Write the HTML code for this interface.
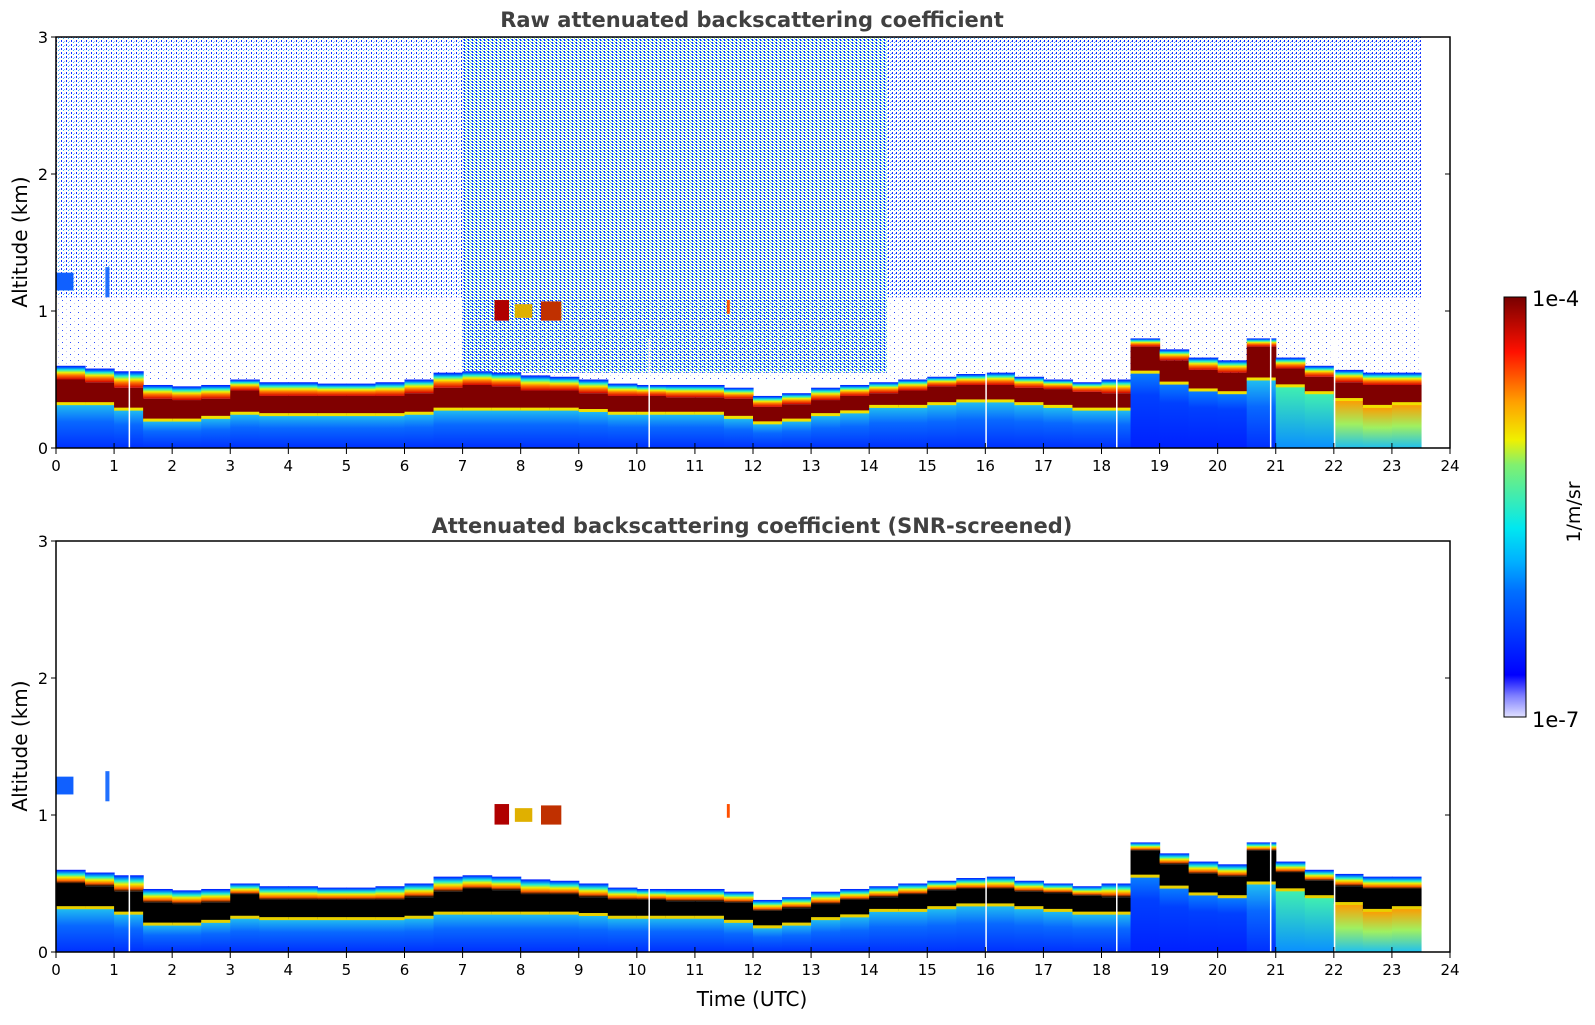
<!DOCTYPE html>
<html><head><meta charset="utf-8">
<style>
body{margin:0;background:#fff;}
svg text{font-family:"DejaVu Sans","Liberation Sans",sans-serif;}
</style></head>
<body>
<svg id="chart" width="1595" height="1020" viewBox="0 0 1595 1020" xmlns="http://www.w3.org/2000/svg">
<defs>
  <linearGradient id="gLowBlue" x1="0" y1="1" x2="0" y2="0"><stop offset="0" stop-color="#0020ff"/><stop offset="0.7" stop-color="#0040ff"/><stop offset="1" stop-color="#0880ff"/></linearGradient>
  <linearGradient id="gLowMid" x1="0" y1="1" x2="0" y2="0"><stop offset="0" stop-color="#0030ff"/><stop offset="0.6" stop-color="#0868ff"/><stop offset="1" stop-color="#20c0f0"/></linearGradient>
  <linearGradient id="gLowCyan" x1="0" y1="1" x2="0" y2="0"><stop offset="0" stop-color="#0a90ff"/><stop offset="1" stop-color="#40f0b0"/></linearGradient>
  <linearGradient id="gLowYel" x1="0" y1="1" x2="0" y2="0"><stop offset="0" stop-color="#20c0f0"/><stop offset="0.5" stop-color="#a0f060"/><stop offset="1" stop-color="#ff9a00"/></linearGradient>
  <linearGradient id="gUpper" x1="0" y1="1" x2="0" y2="0"><stop offset="0" stop-color="#d00000"/><stop offset="0.3" stop-color="#ff7000"/><stop offset="0.5" stop-color="#f0f000"/><stop offset="0.7" stop-color="#20f0d0"/><stop offset="0.85" stop-color="#0070ff"/><stop offset="1" stop-color="#0010ff"/></linearGradient>
  <linearGradient id="gUpperB" x1="0" y1="1" x2="0" y2="0"><stop offset="0" stop-color="#000"/><stop offset="0.2" stop-color="#ff6000"/><stop offset="0.45" stop-color="#f0f000"/><stop offset="0.65" stop-color="#20f0d0"/><stop offset="0.85" stop-color="#0070ff"/><stop offset="1" stop-color="#0010ff"/></linearGradient>
  <linearGradient id="gCbar" x1="0" y1="1" x2="0" y2="0">
    <stop offset="0" stop-color="#e0e0ff"/><stop offset="0.05" stop-color="#8080ff"/><stop offset="0.1" stop-color="#0000ff"/><stop offset="0.3" stop-color="#0070ff"/><stop offset="0.37" stop-color="#00b0ff"/><stop offset="0.45" stop-color="#00e8f0"/><stop offset="0.6" stop-color="#80f070"/><stop offset="0.66" stop-color="#f0f000"/><stop offset="0.75" stop-color="#ffa000"/><stop offset="0.87" stop-color="#ff1000"/><stop offset="1" stop-color="#780000"/>
  </linearGradient>
  <pattern id="pSparse" width="5" height="4" patternUnits="userSpaceOnUse">
    <rect x="1" y="0" width="1" height="2" fill="#1030ff"/><rect x="3" y="2" width="1" height="1" fill="#30b8ff"/><rect x="4" y="1" width="1" height="1" fill="#a0a8ff"/>
  </pattern>
  <pattern id="pDense" width="4" height="3" patternUnits="userSpaceOnUse">
    <rect x="0" y="0" width="1" height="2" fill="#1030ff"/><rect x="1" y="1" width="1" height="1" fill="#30d8e0"/><rect x="2" y="2" width="1" height="1" fill="#90f080"/><rect x="3" y="0" width="1" height="1" fill="#2080ff"/>
  </pattern>
  <pattern id="pMed" width="4" height="4" patternUnits="userSpaceOnUse">
    <rect x="0" y="0" width="1" height="2" fill="#1030ff"/><rect x="2" y="2" width="1" height="1" fill="#30a0ff"/><rect x="3" y="1" width="1" height="1" fill="#9098ff"/>
  </pattern>
  <pattern id="pFaint" width="8" height="6" patternUnits="userSpaceOnUse">
    <rect x="2" y="3" width="1" height="1" fill="#c0c4ff"/><rect x="6" y="0" width="1" height="1" fill="#3050ff"/>
  </pattern>
</defs>
<g id="top-plot"></g>
<g id="bot-plot"></g>

<text x="752" y="27" text-anchor="middle" font-size="21" font-weight="bold" fill="#404040">Raw attenuated backscattering coefficient</text>
<text x="752" y="533" text-anchor="middle" font-size="21" font-weight="bold" fill="#404040">Attenuated backscattering coefficient (SNR-screened)</text>
<text x="752" y="1006" text-anchor="middle" font-size="20">Time (UTC)</text>
<text transform="translate(27,242) rotate(-90)" text-anchor="middle" font-size="20">Altitude (km)</text>
<text transform="translate(27,746) rotate(-90)" text-anchor="middle" font-size="20">Altitude (km)</text>

<g>
  <rect x="1504" y="297" width="22" height="420" fill="url(#gCbar)" stroke="#000" stroke-width="1"/>
  <text x="1532" y="306" font-size="21">1e-4</text>
  <text x="1532" y="727" font-size="21">1e-7</text>
  <text transform="translate(1580,512) rotate(-90)" text-anchor="middle" font-size="19">1/m/sr</text>
</g>
</svg>
<script>
// half-hourly columns starting at these times (UTC hours)
const times = [0,0.5,1,1.5,2,2.5,3,3.5,4,4.5,5,5.5,6,6.5,7,7.5,8,8.5,9,9.5,10,10.5,11,11.5,12,12.5,13,13.5,14,14.5,15,15.5,16,16.5,17,17.5,18,18.5,19,19.5,20,20.5,21,21.5,22,22.5,23];
const layerTop = [0.6,0.58,0.56,0.46,0.45,0.46,0.5,0.48,0.48,0.47,0.47,0.48,0.5,0.55,0.56,0.55,0.53,0.52,0.5,0.47,0.46,0.46,0.46,0.44,0.38,0.4,0.44,0.46,0.48,0.5,0.52,0.54,0.55,0.52,0.5,0.48,0.5,0.8,0.72,0.66,0.64,0.8,0.66,0.6,0.57,0.55,0.55];
const coreTop = [0.5,0.48,0.44,0.36,0.35,0.36,0.42,0.38,0.38,0.38,0.38,0.38,0.4,0.44,0.46,0.45,0.42,0.42,0.4,0.38,0.38,0.37,0.37,0.36,0.3,0.32,0.35,0.38,0.4,0.42,0.45,0.46,0.46,0.44,0.43,0.41,0.4,0.74,0.64,0.57,0.55,0.74,0.58,0.52,0.48,0.46,0.46];
const coreBot = [0.32,0.32,0.28,0.2,0.2,0.22,0.25,0.24,0.24,0.24,0.24,0.24,0.25,0.28,0.28,0.28,0.28,0.28,0.27,0.25,0.25,0.25,0.25,0.22,0.18,0.2,0.24,0.26,0.3,0.3,0.32,0.34,0.34,0.32,0.3,0.28,0.28,0.55,0.47,0.42,0.4,0.5,0.45,0.4,0.35,0.3,0.32];
const lowLevel = [1,1,1,1,1,1,1,1,1,1,1,1,1,1,1,1,1,1,1,1,1,1,1,1,1,1,1,1,1,1,1,1,1,1,1,1,1,0,0,0,0,1,2,2,3,3,3];
const gapTimes = [1.25,10.2,16.0,18.25,20.9,22.0];
const xTicks = [0,1,2,3,4,5,6,7,8,9,10,11,12,13,14,15,16,17,18,19,20,21,22,23,24];
const yTicks = [0,1,2,3];
// clouds: start hour, end hour, bottom km, top km
const cloudStart = [7.55,7.9,8.35,0.0,0.85,11.55];
const cloudEnd = [7.8,8.2,8.7,0.3,0.92,11.6];
const cloudBot = [0.93,0.95,0.93,1.15,1.1,0.98];
const cloudTop = [1.08,1.05,1.07,1.28,1.32,1.08];
const cloudHue = ['#b00000','#e0b000','#c03000','#1060ff','#2070ff','#ff5000'];

const NS = 'http://www.w3.org/2000/svg';
const X0 = 56, X1 = 1450, TMAX = 24, KM = 137;
const panels = [{g:'top-plot', top:37, bot:448, raw:true}, {g:'bot-plot', top:541, bot:952, raw:false}];
function xs(t){ return X0 + t/TMAX*(X1-X0); }
function mk(tag, attrs, parent){ const e=document.createElementNS(NS,tag); for(const k in attrs) e.setAttribute(k,attrs[k]); parent.appendChild(e); return e; }
const lowFills = ['url(#gLowBlue)','url(#gLowMid)','url(#gLowCyan)','url(#gLowYel)'];

panels.forEach(function(p){
  const g = document.getElementById(p.g);
  const ys = function(h){ return p.bot - h*KM; };
  if (p.raw) {
    const nz1 = mk('rect',{x:xs(0),y:ys(3),width:xs(7)-xs(0),height:ys(1.1)-ys(3),fill:'url(#pSparse)'},g);
    
    
    const nz2 = mk('rect',{x:xs(7),y:ys(3),width:xs(14.3)-xs(7),height:ys(0.55)-ys(3),fill:'url(#pDense)'},g);
    
    
    const nz3 = mk('rect',{x:xs(14.3),y:ys(3),width:xs(23.5)-xs(14.3),height:ys(1.1)-ys(3),fill:'url(#pMed)'},g);
    
    
    const nz4 = mk('rect',{x:xs(0),y:ys(1.1),width:xs(23.5)-xs(0),height:ys(0.5)-ys(1.1),fill:'url(#pFaint)'},g);
    
    
  }
  times.forEach(function(t,i){
    const x = xs(t), w = xs(t+0.5)-xs(t)+0.6;
    const low = mk('rect',{x:x,y:ys(coreBot[i]),width:w,height:ys(0)-ys(coreBot[i]),fill:lowFills[lowLevel[i]]},g);
    
    
    const core = mk('rect',{x:x,y:ys(coreTop[i]),width:w,height:ys(coreBot[i])-ys(coreTop[i]),fill:p.raw?'#800000':'#000000'},g);
    
    
    const edge = mk('rect',{x:x,y:ys(coreBot[i])-2,width:w,height:3,fill:p.raw?'#f0e000':'#e8d000'},g);
    
    
    const up = mk('rect',{x:x,y:ys(layerTop[i]),width:w,height:ys(coreTop[i])-ys(layerTop[i]),fill:p.raw?'url(#gUpper)':'url(#gUpperB)'},g);
    
    
  });
  cloudStart.forEach(function(s,i){
    const c = mk('rect',{x:xs(s),y:ys(cloudTop[i]),width:xs(cloudEnd[i])-xs(s),height:ys(cloudBot[i])-ys(cloudTop[i]),fill:cloudHue[i]},g);
    
    
  });
  gapTimes.forEach(function(t){
    const l = mk('rect',{x:xs(t),y:ys(0.8),width:1.5,height:ys(0)-ys(0.8),fill:'#fff'},g);
    
    
  });
  const fr = mk('rect',{x:X0,y:p.top,width:X1-X0,height:p.bot-p.top,fill:'none',stroke:'#000','stroke-width':1.5},g);
  
  
  xTicks.forEach(function(v){
    const x = xs(v);
    mk('line',{x1:x,x2:x,y1:p.bot,y2:p.bot+6,stroke:'#000','stroke-width':1},g);
    mk('line',{x1:x,x2:x,y1:p.bot,y2:p.bot-5,stroke:'#000','stroke-width':1},g);
    const tl = mk('text',{x:x,y:p.bot+23,'text-anchor':'middle','font-size':15},g);
    tl.textContent = v;
    
    
  });
  yTicks.forEach(function(v){
    const y = ys(v);
    mk('line',{x1:X0-5,x2:X0,y1:y,y2:y,stroke:'#000','stroke-width':1},g);
    mk('line',{x1:X1-5,x2:X1,y1:y,y2:y,stroke:'#000','stroke-width':1},g);
    const tl = mk('text',{x:X0-8,y:y+6,'text-anchor':'end','font-size':16},g);
    tl.textContent = v;
    
    
  });
});
</script>
</body></html>
